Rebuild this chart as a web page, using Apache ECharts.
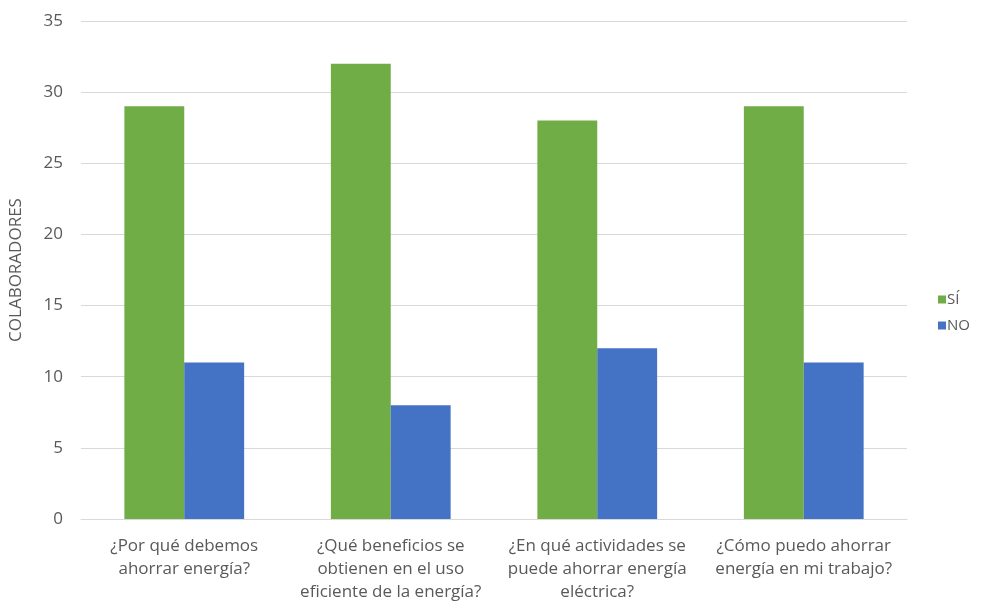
<!DOCTYPE html>
<html>
<head>
<meta charset="utf-8">
<script src="https://cdn.jsdelivr.net/npm/echarts@6/dist/echarts.min.js"></script>
<style>html,body{margin:0;padding:0;background:#fff}#c{width:990px;height:606px}</style>
</head>
<body>
<div id="c"></div>
<script>
const categories = [
  "¿Por qué debemos\nahorrar energía?",
  "¿Qué beneficios se\nobtienen en el uso\neficiente de la energía?",
  "¿En qué actividades se\npuede ahorrar energía\neléctrica?",
  "¿Cómo puedo ahorrar\nenergía en mi trabajo?"
];
const siValues = [29, 32, 28, 29];
const noValues = [11, 8, 12, 11];
const seriesNames = ["SÍ", "NO"];
const yAxisName = "COLABORADORES";

const chart = echarts.init(document.getElementById('c'), null, {renderer: 'canvas'});
const font = '"Open Sans", "Noto Sans", sans-serif';
chart.setOption({
  animation: false,
  textStyle: {fontFamily: font},
  grid: {left: 81, right: 83, top: 21, bottom: 87},
  legend: {
    orient: 'vertical', left: 933, top: 287, itemWidth: 8, itemHeight: 8, itemGap: 11,
    icon: 'rect',
    textStyle: {color: '#595959', fontSize: 15, fontFamily: font, padding: [0,0,0,-4]},
    data: seriesNames
  },
  xAxis: {
    type: 'category', data: categories,
    axisLine: {lineStyle: {color: '#d9d9d9'}},
    axisTick: {show: false},
    axisLabel: {color: '#595959', fontSize: 17, lineHeight: 23, margin: 16, interval: 0, fontFamily: font}
  },
  yAxis: {
    type: 'value', min: 0, max: 35, interval: 5,
    name: yAxisName, nameLocation: 'middle', nameGap: 56, nameRotate: 90,
    nameTextStyle: {color: '#595959', fontSize: 17, fontFamily: font},
    axisLine: {show: false}, axisTick: {show: false},
    axisLabel: {color: '#595959', fontSize: 17, margin: 18, fontFamily: font},
    splitLine: {lineStyle: {color: '#d9d9d9'}}
  },
  series: [
    {name: seriesNames[0], type: 'bar', data: siValues, itemStyle: {color: '#70AD47'}, barGap: '0%', barCategoryGap: '42%'},
    {name: seriesNames[1], type: 'bar', data: noValues, itemStyle: {color: '#4472C4'}, barGap: '0%', barCategoryGap: '42%'}
  ]
});
</script>
</body>
</html>
